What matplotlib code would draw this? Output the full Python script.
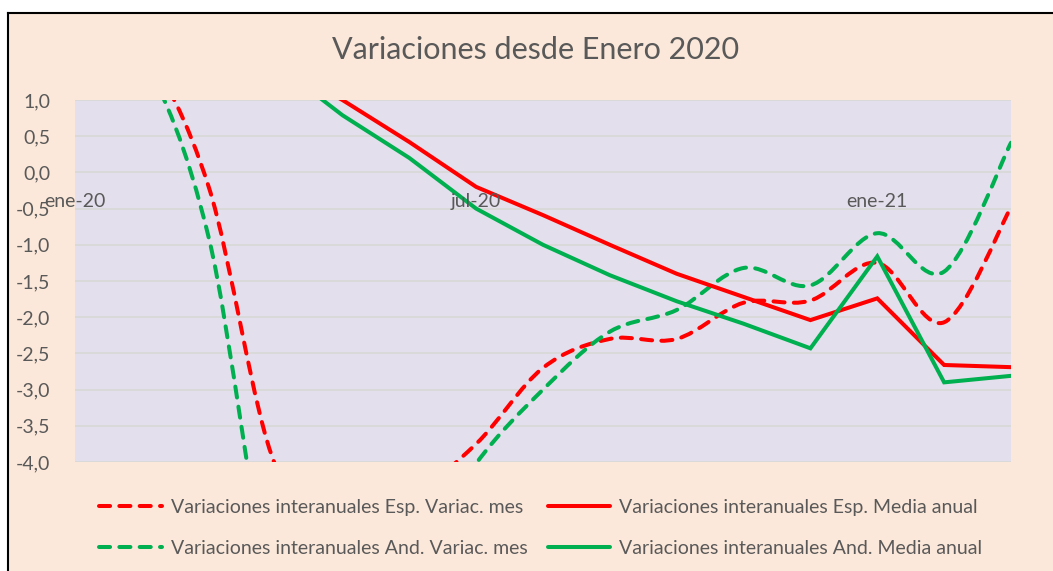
import numpy as np
import matplotlib
matplotlib.use('Agg')
import matplotlib.pyplot as plt
from matplotlib.path import Path
from matplotlib.patches import PathPatch, Rectangle
from matplotlib.lines import Line2D

plt.rcParams['font.family'] = ['Lato', 'DejaVu Sans']

# datos (variacion interanual, %)
meses = ['ene-20', 'feb-20', 'mar-20', 'abr-20', 'may-20', 'jun-20', 'jul-20', 'ago-20',
         'sep-20', 'oct-20', 'nov-20', 'dic-20', 'ene-21', 'feb-21', 'mar-21']
esp_mes = [2.0, 1.7, -0.2, -4.05, -4.5, -4.45, -3.75, -2.7, -2.3, -2.3, -1.8, -1.77, -1.25, -2.07, -0.48]
esp_media = [2.1, 2.0, 1.8, 1.5, 1.0, 0.42, -0.2, -0.59, -1.0, -1.4, -1.72, -2.04, -1.74, -2.66, -2.69]
and_mes = [2.2, 1.6, -0.9, -6.0, -6.5, -5.5, -4.02, -3.0, -2.2, -1.9, -1.32, -1.56, -0.84, -1.37, 0.41]
and_media = [2.3, 2.2, 2.0, 1.5, 0.79, 0.2, -0.5, -1.0, -1.42, -1.78, -2.09, -2.43, -1.16, -2.9, -2.81]

etiquetas_x = ['ene-20', 'jul-20', 'ene-21']
yticks = [-4.0, -3.5, -3.0, -2.5, -2.0, -1.5, -1.0, -0.5, 0.0, 0.5, 1.0]

ROJO = '#FF0000'
VERDE = '#00B050'
GRIS = '#595959'
DASH = (2.75, 2.3)
LW = 2.9
FS = 14


def suavizada(x, y):
    # curva suavizada tipo Excel (bezier por los puntos)
    p = np.column_stack([x, y]).astype(float)
    n = len(p)
    verts = [p[0]]
    codes = [Path.MOVETO]
    for i in range(n - 1):
        p0 = p[i - 1] if i > 0 else p[i]
        p3 = p[i + 2] if i + 2 < n else p[i + 1]
        c1 = p[i] + (p[i + 1] - p0) / 6
        c2 = p[i + 1] - (p3 - p[i]) / 6
        verts += [c1, c2, p[i + 1]]
        codes += [Path.CURVE4] * 3
    return Path(verts, codes)


fig = plt.figure(figsize=(10.53, 5.71), dpi=100)
fig.patch.set_facecolor('white')

# fondo del grafico + borde
fig.patches.append(Rectangle((8 / 1053, 0), 1, 1 - 13 / 571, transform=fig.transFigure,
                             facecolor='#FCE8DA', edgecolor='none', zorder=-5))
fig.lines.append(Line2D([7.5 / 1053, 7.5 / 1053], [0, 1 - 12.5 / 571], transform=fig.transFigure,
                        color='black', lw=1.5, zorder=-4))
fig.lines.append(Line2D([7.5 / 1053, 1], [1 - 12.5 / 571, 1 - 12.5 / 571], transform=fig.transFigure,
                        color='black', lw=1.5, zorder=-4))

ax = fig.add_axes([75 / 1053, 1 - 462 / 571, (1011 - 75) / 1053, (462 - 100) / 571])
ax.set_facecolor('#E4DFEC')
x = np.arange(len(meses))

for serie, color in [(esp_mes, ROJO), (and_mes, VERDE)]:
    pp = PathPatch(suavizada(x, serie), fill=False, edgecolor=color, lw=LW,
                   linestyle=(0, DASH), capstyle='round', joinstyle='round', zorder=3)
    ax.add_patch(pp)

ax.plot(x, esp_media, color=ROJO, lw=LW, solid_joinstyle='miter', zorder=4)
ax.plot(x, and_media, color=VERDE, lw=LW, solid_joinstyle='miter', zorder=4)

ax.set_xlim(0, len(meses) - 1)
ax.set_ylim(-4.0, 1.0)
ax.set_yticks(yticks)
ax.set_yticklabels([f'{v:.1f}'.replace('.', ',') for v in yticks])
ax.tick_params(axis='y', length=0, pad=18, labelsize=FS, labelcolor=GRIS)
ax.set_xticks([])
ax.grid(axis='y', color='#D9D9D9', lw=1.3, zorder=1)
ax.set_axisbelow(True)
for s in ax.spines.values():
    s.set_visible(False)

# etiquetas del eje de categorias (cruza en 0)
for et in etiquetas_x:
    ax.annotate(et, (meses.index(et), 0), xytext=(0, -21), textcoords='offset points',
                ha='center', va='center', fontsize=FS, color=GRIS, zorder=6,
                annotation_clip=False)

fig.text(536 / 1053, 1 - 50 / 571, 'Variaciones desde Enero 2020', ha='center', va='center',
         fontsize=22, color=GRIS)

handles = [
    Line2D([], [], color=ROJO, lw=LW, linestyle=(0, DASH), dash_capstyle='round'),
    Line2D([], [], color=VERDE, lw=LW, linestyle=(0, DASH), dash_capstyle='round'),
    Line2D([], [], color=ROJO, lw=LW, solid_capstyle='round'),
    Line2D([], [], color=VERDE, lw=LW, solid_capstyle='round'),
]
labels = ['Variaciones interanuales Esp. Variac. mes',
          'Variaciones interanuales And. Variac. mes',
          'Variaciones interanuales Esp. Media anual',
          'Variaciones interanuales And. Media anual']
leg = fig.legend(handles, labels, ncol=2, loc='center', bbox_to_anchor=(541 / 1053, 1 - 528 / 571),
                 frameon=False, fontsize=FS, handlelength=3.2, handletextpad=0.5,
                 columnspacing=1.0, labelspacing=1.25)
for t in leg.get_texts():
    t.set_color(GRIS)

fig.savefig('out.png', dpi=100, facecolor=fig.get_facecolor())
